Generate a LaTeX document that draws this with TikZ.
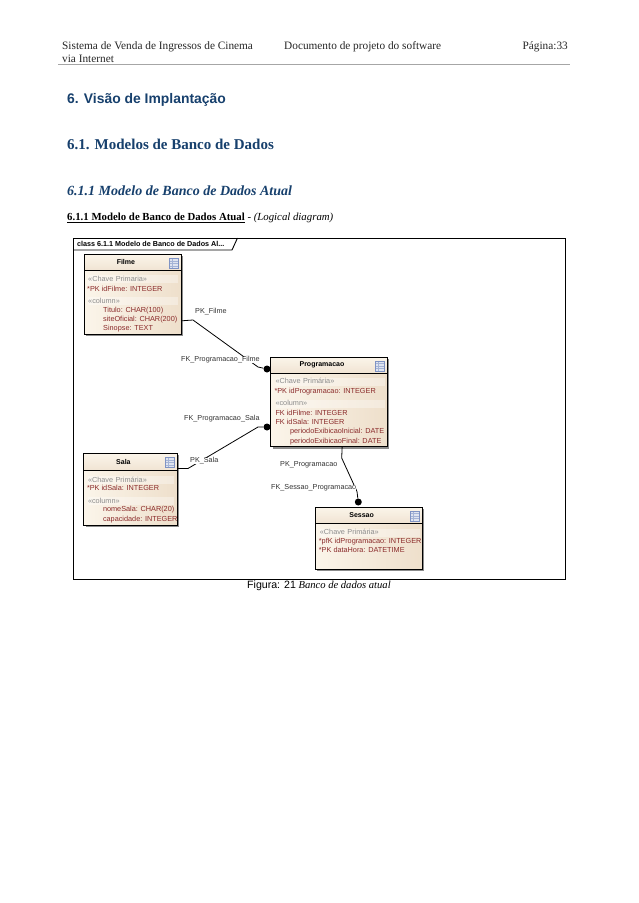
\documentclass[tikz,border=0pt]{standalone}
\usepackage{fontspec}
\setmainfont{Liberation Serif}
\setsansfont{Liberation Sans}
\usepackage{xcolor}
\usetikzlibrary{positioning, shadows}
\definecolor{headblue}{HTML}{17406D}
\definecolor{attrred}{HTML}{8A2A2A}
\definecolor{stereogray}{HTML}{8C8C8C}
\definecolor{creamlight}{HTML}{FBF5EA}
\definecolor{creamdark}{HTML}{EEDFCB}
\definecolor{linkgray}{HTML}{333333}
\definecolor{iconblue}{HTML}{7F93C4}

\begin{document}
\begin{tikzpicture}[
                x=1pt, y=-1pt,
                tablebox/.style={rectangle, draw, line width=0.8pt, anchor=north west, left color=creamlight, right color=creamdark, copy shadow={shadow xshift=2pt, shadow yshift=-2pt, fill=black!45, draw=none}},
                headbox/.style={rectangle, draw, line width=0.8pt, minimum height=16pt, inner sep=0pt, top color=creamlight, bottom color=creamdark!85},
                tabletitle/.style={font=\sffamily\bfseries\fontsize{7}{8}\selectfont, inner sep=0pt},
                tableicon/.style={rectangle, draw=iconblue, fill=iconblue!25, minimum width=9pt, minimum height=10pt, inner sep=0pt,
                    path picture={\draw [iconblue!70, line width=0.25pt] (path picture bounding box.north west) ++(0pt,-2.5pt) -- ++(9pt,0pt) ++(-9pt,-2.5pt) -- ++(9pt,0pt) ++(-9pt,-2.5pt) -- ++(9pt,0pt) (path picture bounding box.north west) ++(3pt,0pt) -- ++(0pt,-10pt);}},
                row/.style={font=\sffamily\fontsize{7.3}{8}\selectfont, inner sep=0pt, text height=6pt, text depth=2pt, text=attrred},
                stereo/.style={row, text=stereogray, text width=#1, fill=white, fill opacity=0.35, text opacity=1},
                linklabel/.style={font=\sffamily\fontsize{7.25}{8}\selectfont, inner sep=0pt, anchor=west, text=linkgray, fill=white},
                link/.style={line width=0.8pt},
                fkdot/.style={circle, fill=black, minimum size=7pt, inner sep=0pt},
                pagetext/.style={font=\fontsize{11.3}{12}\selectfont, inner sep=0pt, anchor=west, text=black!85},
                pagehead/.style={inner sep=0pt, anchor=west, text=headblue}
            ]
            \useasboundingbox [fill=white] (0,0) rectangle (638,903);

            % page header
            \node (sistema) [pagetext] at (62,47) {Sistema de Venda de Ingressos de Cinema};
            \node (internet) [pagetext, below right=2.5pt and 0pt of sistema.south west] {via Internet};
            \node (documento) [pagetext] at (284,47) {Documento de projeto do software};
            \node (pagina) [pagetext, anchor=east] at (568,47) {Página:33};
            \draw [black!35, line width=0.6pt] (58,64.5) -- (570,64.5);

            % headings
            \node (visao) [pagehead, font=\sffamily\bfseries\fontsize{13.9}{16}\selectfont] at (67,100) {6. Visão de Implantação};
            \node (modelos) [pagehead, font=\bfseries\fontsize{15}{18}\selectfont] at (67,144) {6.1. Modelos de Banco de Dados};
            \node (atual) [pagehead, font=\bfseries\itshape\fontsize{14}{18}\selectfont] at (67,191) {6.1.1 Modelo de Banco de Dados Atual};
            \node (logical) [pagetext, text=black, font=\fontsize{10.8}{12}\selectfont] at (67,218) {\textbf{\underline{6.1.1 Modelo de Banco de Dados Atual}} - \textit{(Logical diagram)}};

            % diagram frame
            \node (frame) [rectangle, draw, line width=0.9pt, anchor=north west, minimum width=492pt, minimum height=341pt] at (73,238) {};
            \coordinate (tabA) at (232,250);
            \coordinate (tabB) at (237.5,238);
            \draw [line width=0.9pt] (frame.west |- tabA) -- (tabA) -- (tabB);
            \node (frameTitle) [tabletitle, anchor=west, font=\sffamily\bfseries\fontsize{7.2}{8}\selectfont] at (77,243.5) {class 6.1.1 Modelo de Banco de Dados  Al...};

            % Filme
            \node (filme) [tablebox, minimum width=97pt, minimum height=80pt] at (84,254) {};
            \node (filmeHead) [headbox, minimum width=97pt, below right=0pt and 0pt of filme.north west] {};
            \node (filmeTitle) [tabletitle] at ([xshift=-7pt]filmeHead.center) {Filme};
            \node (filmeIcon) [tableicon, below left=4pt and 3pt of filme.north east] {};
            \node (filmeKey) [stereo=90pt, below right=21pt and 4pt of filme.north west] {«Chave Primaria»};
            \node (filmePk) [row, below right=1.5pt and -1pt of filmeKey.south west] {*PK idFilme: INTEGER};
            \node (filmeCol) [stereo=90pt, below right=3.5pt and 1pt of filmePk.south west] {«column»};
            \node (filmeTitulo) [row, below right=1pt and 15pt of filmeCol.south west] {Titulo: CHAR(100)};
            \node (filmeSite) [row, below right=1pt and 0pt of filmeTitulo.south west] {siteOficial: CHAR(200)};
            \node (filmeSinopse) [row, below right=0.5pt and 0pt of filmeSite.south west] {Sinopse: TEXT};

            % Programacao
            \node (prog) [tablebox, minimum width=116.5pt, minimum height=89.5pt] at (270.3,356.7) {};
            \node (progHead) [headbox, minimum width=116.5pt, below right=0pt and 0pt of prog.north west] {};
            \node (progTitle) [tabletitle] at ([xshift=-7pt]progHead.center) {Programacao};
            \node (progIcon) [tableicon, below left=4pt and 3pt of prog.north east] {};
            \node (progKey) [stereo=109pt, below right=21pt and 5pt of prog.north west] {«Chave Primária»};
            \node (progPk) [row, below right=1.5pt and -1pt of progKey.south west] {*PK idProgramacao: INTEGER};
            \node (progCol) [stereo=109pt, below right=3.5pt and 1pt of progPk.south west] {«column»};
            \node (progFilme) [row, below right=1pt and 0pt of progCol.south west] {FK idFilme: INTEGER};
            \node (progSala) [row, below right=1pt and 0pt of progFilme.south west] {FK idSala: INTEGER};
            \node (progIni) [row, below right=0.3pt and 14.5pt of progSala.south west] {periodoExibicaoInicial: DATE};
            \node (progFim) [row, below right=1.5pt and 0pt of progIni.south west] {periodoExibicaoFinal: DATE};

            % Sala
            \node (sala) [tablebox, minimum width=93.4pt, minimum height=72pt] at (83.3,453) {};
            \node (salaHead) [headbox, minimum width=93.4pt, minimum height=17pt, below right=0pt and 0pt of sala.north west] {};
            \node (salaTitle) [tabletitle] at ([xshift=-7pt]salaHead.center) {Sala};
            \node (salaIcon) [tableicon, below left=4pt and 3pt of sala.north east] {};
            \node (salaKey) [stereo=86pt, below right=23pt and 4.5pt of sala.north west] {«Chave Primária»};
            \node (salaPk) [row, below right=0pt and -1pt of salaKey.south west] {*PK idSala: INTEGER};
            \node (salaCol) [stereo=86pt, below right=4pt and 1pt of salaPk.south west] {«column»};
            \node (salaNome) [row, below right=0pt and 15pt of salaCol.south west] {nomeSala: CHAR(20)};
            \node (salaCap) [row, below right=1.5pt and 0pt of salaNome.south west] {capacidade: INTEGER};

            % Sessao
            \node (sessao) [tablebox, minimum width=107pt, minimum height=62.3pt] at (314.7,506.7) {};
            \node (sessaoHead) [headbox, minimum width=107pt, below right=0pt and 0pt of sessao.north west] {};
            \node (sessaoTitle) [tabletitle] at ([xshift=-7pt]sessaoHead.center) {Sessao};
            \node (sessaoIcon) [tableicon, below left=4pt and 3pt of sessao.north east] {};
            \node (sessaoKey) [stereo=100pt, below right=22pt and 5pt of sessao.north west] {«Chave Primária»};
            \node (sessaoPfk) [row, below right=0.5pt and -1pt of sessaoKey.south west] {*pfK idProgramacao: INTEGER};
            \node (sessaoPk) [row, below right=0pt and 0pt of sessaoPfk.south west] {*PK dataHora: DATETIME};

            % connectors
            \node (dotFilme) [fkdot] at (267,369) {};
            \node (dotSala) [fkdot] at (267,427) {};
            \node (dotSessao) [fkdot] at (358.3,502) {};
            \coordinate (filmeBendA) at (193,320);
            \coordinate (filmeBendB) at (258,367);
            \coordinate (salaBendA) at (188,468.5);
            \coordinate (salaBendB) at (258,427);
            \coordinate (progBendA) at (341.7,458);
            \coordinate (progBendB) at (357,491.5);
            \draw [link] ([yshift=14pt]filme.south east) -- (filmeBendA) -- (filmeBendB) -- (dotFilme);
            \draw [link] ([yshift=-15.5pt]sala.north east) -- (salaBendA) -- (salaBendB) -- (dotSala);
            \draw [link] ([xshift=13.2pt]prog.south) -- (progBendA) -- (progBendB) -- (dotSessao);

            % connector labels
            \node (pkFilme) [linklabel] at (195,312) {PK\_Filme};
            \node (fkFilme) [linklabel] at (181,360) {FK\_Programacao\_Filme};
            \node (fkSala) [linklabel] at (184,418.5) {FK\_Programacao\_Sala};
            \node (pkSala) [linklabel] at (190,461) {PK\_Sala};
            \node (pkProg) [linklabel] at (280,465) {PK\_Programacao};
            \node (fkSessao) [linklabel] at (271,488) {FK\_Sessao\_Programacao};

            % caption
            \node (figura) [inner sep=0pt, anchor=west, font=\fontsize{10.6}{12}\selectfont] at (247,586) {\textsf{Figura: 21} \textit{Banco de dados atual}};
            \end{tikzpicture}
\end{document}
